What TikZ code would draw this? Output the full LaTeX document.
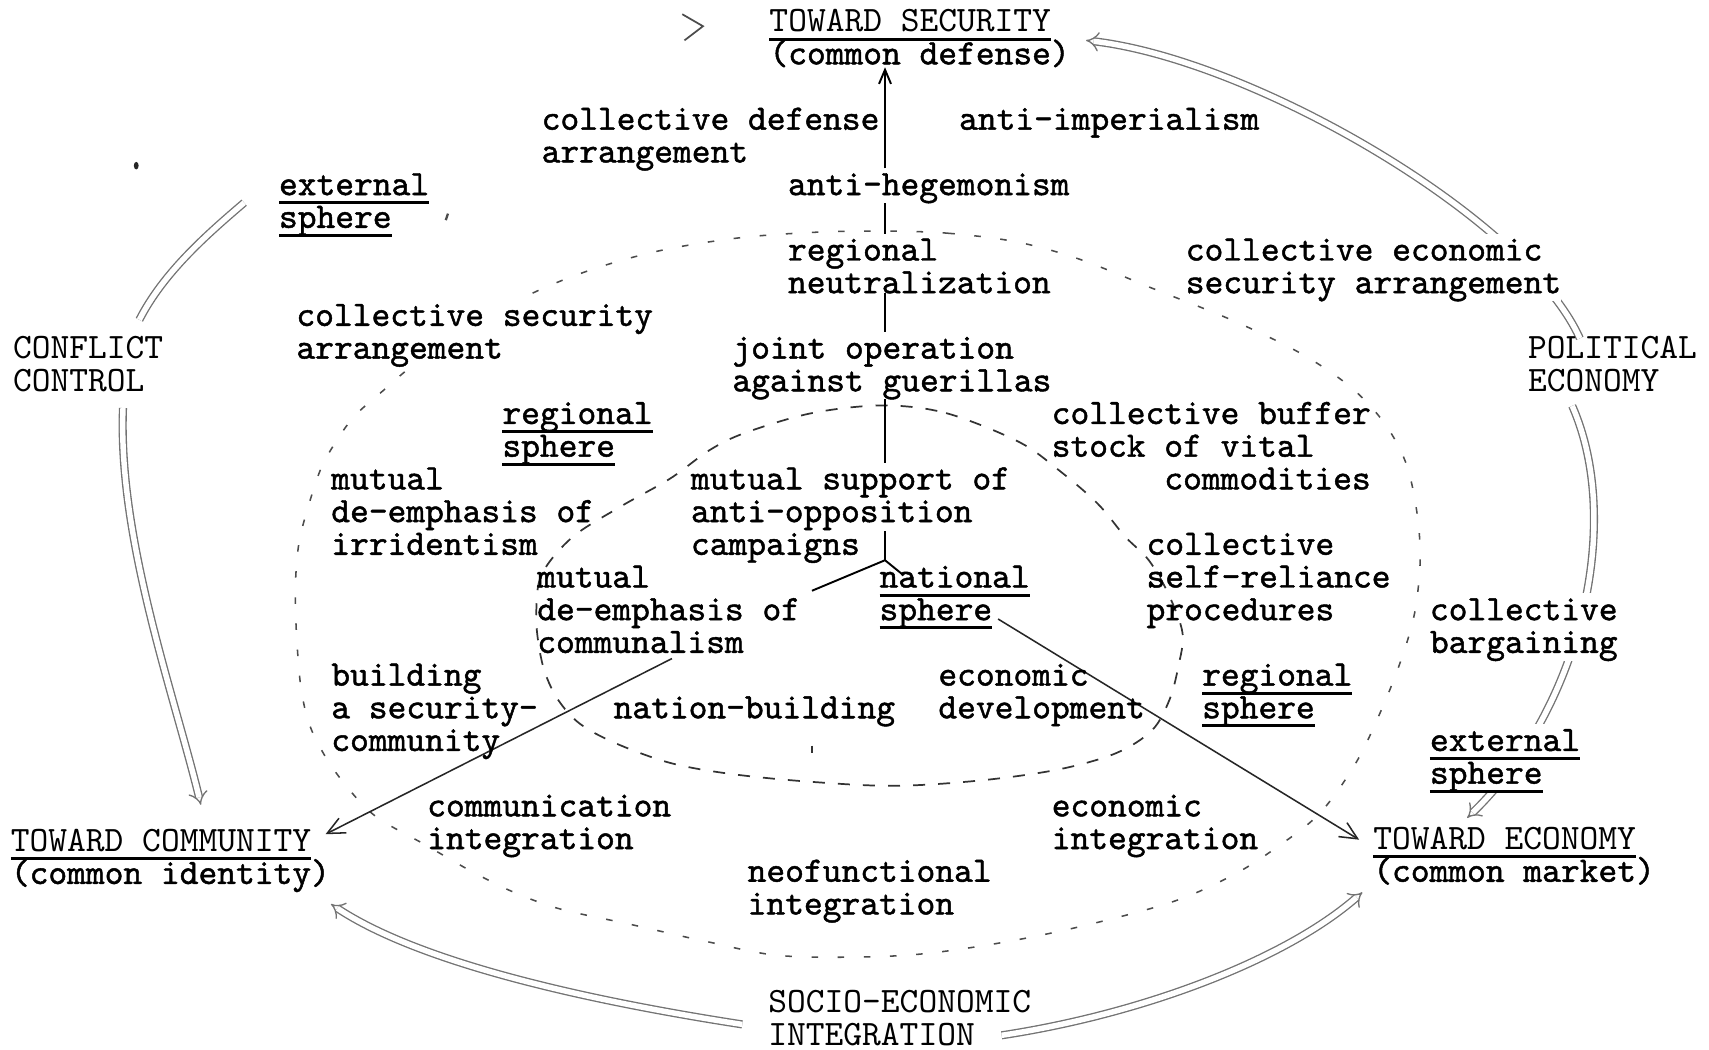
\documentclass[tikz,border=0pt]{standalone}
\usetikzlibrary{arrows.meta,calc,backgrounds}

% typewriter faces: an inked one for the running labels, a plain one for the capitals
\font\twink="[lmmono10-regular.otf]:embolden=1.3" at 9.33pt
\font\twplain="[lmmono10-regular.otf]" at 9.33pt

% strut that fixes the height of the first line of every label
\newcommand\tstrut{\rule{0pt}{7pt}}
% typewriter-style underline, set at a fixed depth under the baseline
\newcommand\uword[1]{\setbox0=\hbox{#1}\rlap{\rule[-2.4pt]{\wd0}{0.8pt}}\box0}
% label font: typewriter face with a rigid line pitch
\newcommand\lblfont{\fontsize{9.33}{8.54}\selectfont\lineskiplimit-20pt\relax\twink}

\tikzset{
  lbl/.style={anchor=north west, inner sep=0pt, outer sep=0pt, align=left, font=\lblfont},
  mask/.style={fill=white},
  spine/.style={line width=0.5pt, draw=black},
  tipup/.style={-{Straight Barb[length=1.3mm,width=1.1mm]}},
  thinarrow/.style={line width=0.4pt, draw=black!85, -{Straight Barb[length=1.6mm,width=1.5mm]}},
  outer/.style={draw=black!55, line width=0.35pt, double=white, double distance=0.5mm},
  innerring/.style={draw=black!80, line width=0.45pt, dash pattern=on 1.1mm off 1.2mm},
  midring/.style={draw=black!70, line width=0.4pt, dash pattern=on 0.6mm off 1.8mm},
}

\begin{document}
\begin{tikzpicture}[x=0.1mm, y=-0.1mm]
\useasboundingbox (0,0) rectangle (1568,963);

% ---------- labels ----------
\node[lbl] (sec) at (706,4.4) {\tstrut{\twplain\uword{TOWARD SECURITY}}\\(common defense)};
\node[lbl] (cda) at (497,94.4) {\tstrut collective defense\\arrangement};
\node[lbl] (aimp) at (880,94.4) {\tstrut anti-imperialism};
\node[lbl] (heg) at (723,154.4) {\tstrut anti-hegemonism};
\node[lbl] (extL) at (256,154.4) {\tstrut\uword{external}\\\uword{sphere}};
\node[lbl] (neut) at (723,214.4) {\tstrut regional\\neutralization};
\node[lbl,mask] (cesa) at (1088,214.4) {\tstrut collective economic\\security arrangement};
\node[lbl,mask] (csa) at (272,274.4) {\tstrut collective security\\arrangement};
\node[lbl] (cc) at (12,304.4) {\tstrut\twplain CONFLICT\\\twplain CONTROL};
\node[lbl] (pe) at (1402,304.4) {\tstrut\twplain POLITICAL\\\twplain ECONOMY};
\node[lbl] (joint) at (672,304.4) {\tstrut joint operation\\against guerillas};
\node[lbl] (regL) at (461,364.4) {\tstrut\uword{regional}\\\uword{sphere}};
\node[lbl] (buf) at (965,364.4) {\tstrut collective buffer\\stock of vital\\\phantom{stock\ }commodities};
\node[lbl] (mde1) at (304,424.4) {\tstrut mutual\\de-emphasis of\\irridentism};
\node[lbl] (msup) at (634,424.4) {\tstrut mutual support of\\anti-opposition\\campaigns};
\node[lbl] (csr) at (1052,484.4) {\tstrut collective\\self-reliance\\procedures};
\node[lbl] (mde2) at (493,514.4) {\tstrut mutual\\de-emphasis of\\communalism};
\node[lbl] (nat) at (807,514.4) {\tstrut\uword{national}\\\uword{sphere}};
\node[lbl,mask] (cbar) at (1312,544.4) {\tstrut collective\\bargaining};
\node[lbl] (bsc) at (304,604.4) {\tstrut building\\a security-\\community};
\node[lbl] (nb) at (563,634.4) {\tstrut nation-building};
\node[lbl] (edev) at (861,604.4) {\tstrut economic\\development};
\node[lbl] (regR) at (1103,604.4) {\tstrut\uword{regional}\\\uword{sphere}};
\node[lbl,mask] (extR) at (1312,664.4) {\tstrut\uword{external}\\\uword{sphere}};
\node[lbl] (comint) at (392,724.4) {\tstrut communication\\integration};
\node[lbl] (ecoint) at (965,724.4) {\tstrut economic\\integration};
\node[lbl] (com) at (10,756.4) {\tstrut{\twplain\uword{TOWARD COMMUNITY}}\\(common identity)};
\node[lbl] (eco) at (1260,754.4) {\tstrut{\twplain\uword{TOWARD ECONOMY}}\\(common market)};
\node[lbl] (neo) at (686,784.4) {\tstrut neofunctional\\integration};
\node[lbl] (sei) at (705,904.4) {\tstrut\twplain SOCIO-ECONOMIC\\\twplain INTEGRATION};

\coordinate (sp) at (812,0);
\coordinate (jn) at (812,514);
\coordinate (tlb) at (224,186);
\coordinate (chev) at ($(sec.west)+(-61,-9)$);

\begin{pgfonlayer}{background}
\fill[white] (0,0) rectangle (1568,963);

% national sphere
\draw[innerring] plot[smooth cycle, tension=0.55] coordinates {
 (810,372) (868,379) (934,405) (971,431) (1007,462) (1032,492) (1054,514)
 (1072,545) (1085,581) (1081,612) (1073,642) (1057,670) (1024,691) (971,706)
 (900,716) (820,721) (740,717) (670,710) (615,700) (565,682) (532,664)
 (512,642) (500,617) (494,590) (492,562) (497,527) (525,493) (569,465)
 (615,439) (651,413) (684,397) (745,379)};

% regional sphere
\draw[midring] plot[smooth cycle, tension=0.55] coordinates {
 (812,212) (870,214) (933,222) (991,238) (1061,266) (1131,294) (1193,324)
 (1239,355) (1270,388) (1290,425) (1300,470) (1303,514) (1298,562) (1286,604)
 (1268,650) (1244,700) (1211,746) (1172,777) (1131,803) (1074,828) (983,852)
 (900,868) (822,877) (719,877) (649,864) (578,848) (514,834) (470,818)
 (430,798) (390,775) (346,750) (320,724) (299,695) (284,665) (276,630)
 (272,581) (271,538) (274,500) (281,471) (294,431) (309,404) (326,381)
 (352,358) (382,333) (440,295) (495,266) (550,245) (610,229) (680,218) (750,213)};

% central spine
\draw[spine,tipup] (heg.north -| sp) -- (sec.south -| sp);
\draw[spine] (neut.north -| sp) -- (heg.south -| sp);
\draw[spine] (joint.north -| sp) -- (neut.south -| sp);
\draw[spine] (msup.north -| sp) -- (joint.south -| sp);
\draw[spine] (jn) -- ++(0,-27);
\draw[spine] ($(jn)+(-67,28)$) -- (jn) -- ($(jn)+(16,13)$);

% national sphere out to the two goals
\draw[thinarrow] ($(mde2.south)+(3,5)$) -- ($(com.north east)+(-4,9)$);
\draw[thinarrow] ($(nat.east)+(-29,22)$) -- ($(eco.north west)+(-13,16)$);

% outer cycle
\draw[outer,-{Implies}] ($(cc.south)+(32,15)$) .. controls (108,494) and (160,638) .. ($(com.north)+(28,-18)$);
\draw[outer] ($(cc.north)+(47,-11)$) .. controls (150,250) and (190,215) .. (tlb);
\draw[draw=black!70, line width=0.45pt] ($(chev)+(-19,-11)$) -- (chev) -- ($(chev)+(-17,13)$);
\draw[outer,-{Implies}] ($(pe.north)+(-30,6)$) .. controls (1400,200) and (1150,55) .. ($(sec.east)+(15,4)$);
\draw[outer,-{Implies}] ($(pe.south)+(-37,13)$) .. controls (1490,480) and (1450,650) .. ($(eco.north)+(-43,-4)$);
\draw[outer,-{Implies}] ($(sei.west)+(-24,8)$) .. controls (520,915) and (380,880) .. ($(com.south east)+(1,11)$);
\draw[outer,-{Implies}] ($(sei.east)+(-27,18)$) .. controls (1050,930) and (1180,880) .. ($(eco.south west)+(-10,7)$);

% stray typewriter marks
\fill[black!85] (125,152) ellipse (2.2 and 3.5);
\draw[black!70, line width=0.6pt] (411,196) -- (409,202);
\draw[black!80, line width=0.7pt] (745,684) -- (745,691);
\end{pgfonlayer}
\end{tikzpicture}
\end{document}
